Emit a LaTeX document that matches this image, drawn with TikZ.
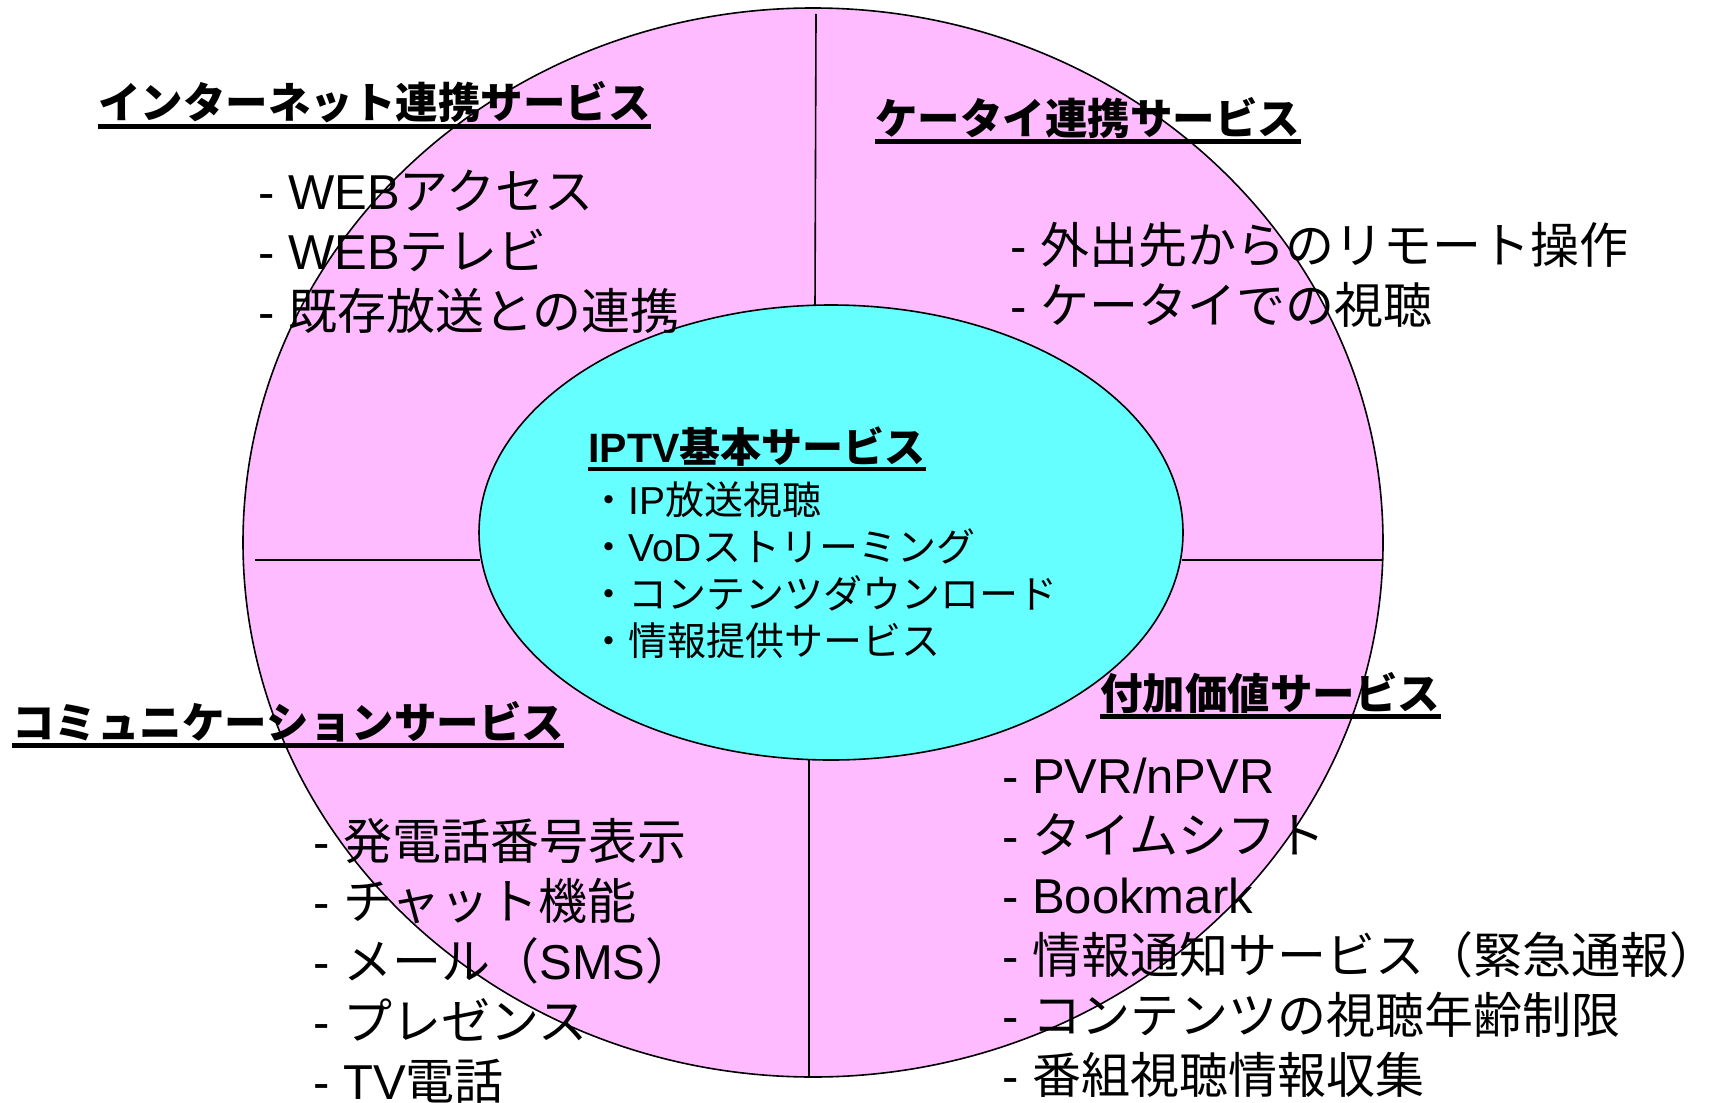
\documentclass[tikz,border=0pt]{standalone}
\usepackage{fontspec}
\setmainfont{Noto Sans CJK JP}
\newfontfamily\lat{Liberation Sans}
\usepackage{tikz}
\usetikzlibrary{shapes.geometric}
\definecolor{ringpink}{RGB}{255,187,255}
\definecolor{corecyan}{RGB}{102,255,255}
\newcommand{\idash}{{\lat -\ }}

\begin{document}
\begin{tikzpicture}[x=0.5pt, y=-0.5pt,
  title/.style={anchor=base west, inner sep=0pt, font=\bfseries\fontsize{21.25pt}{26pt}\selectfont},
  item/.style={anchor=base west, inner sep=0pt, font=\fontsize{24.5pt}{30pt}\selectfont},
  coreitem/.style={anchor=base west, inner sep=0pt, font=\fontsize{19.5pt}{23.5pt}\selectfont},
  uline/.style={line width=2.5pt},
  divider/.style={line width=0.8pt}]
\useasboundingbox (0,0) rectangle (1711,1102);

% Outer ring
\node[draw, ellipse, fill=ringpink, line width=0.8pt, minimum width=570pt, minimum height=534.5pt, inner sep=0pt] (ring) at (813,542.5) {};

% Quarter dividers
\draw[divider] (816,14) -- (815,306);
\draw[divider] (809,760) -- (809,1077);
\draw[divider] (255,560) -- (480,560);
\draw[divider] (1182,560) -- (1383,560);

% Core ellipse
\node[draw, ellipse, fill=corecyan, line width=0.8pt, minimum width=352pt, minimum height=227.5pt, inner sep=0pt] (core) at (831,532.5) {};

% Internet side
\node[title] (inet) at (98,119) {インターネット連携サービス};
\draw[uline] ([yshift=-3.5pt]inet.base west) -- ([yshift=-3.5pt]inet.base east);
\node[item] (inet1) at (258,209) {\idash{\lat WEB}アクセス};
\node[item] (inet2) at ([yshift=-30pt]inet1.base west) {\idash{\lat WEB}テレビ};
\node[item] (inet3) at ([yshift=-30pt]inet2.base west) {\idash 既存放送との連携};

% Mobile side
\node[title] (mobile) at (875,134) {ケータイ連携サービス};
\draw[uline] ([yshift=-3.5pt]mobile.base west) -- ([yshift=-3.5pt]mobile.base east);
\node[item] (mobile1) at (1010,263) {\idash 外出先からのリモート操作};
\node[item] (mobile2) at ([yshift=-30pt]mobile1.base west) {\idash ケータイでの視聴};

% Communication side
\node[title] (comm) at (12,738) {コミュニケーションサービス};
\draw[uline] ([yshift=-3.5pt]comm.base west) -- ([yshift=-3.5pt]comm.base east);
\node[item] (comm1) at (313,859) {\idash 発電話番号表示};
\node[item] (comm2) at ([yshift=-30pt]comm1.base west) {\idash チャット機能};
\node[item] (comm3) at ([yshift=-30pt]comm2.base west) {\idash メール（{\lat SMS}）};
\node[item] (comm4) at ([yshift=-30pt]comm3.base west) {\idash プレゼンス};
\node[item] (comm5) at ([yshift=-30pt]comm4.base west) {\idash{\lat TV}電話};

% Value-added side
\node[title] (value) at (1100,709) {付加価値サービス};
\draw[uline] ([yshift=-3.5pt]value.base west) -- ([yshift=-3.5pt]value.base east);
\node[item] (value1) at (1002,793) {\idash{\lat PVR/nPVR}};
\node[item] (value2) at ([yshift=-30pt]value1.base west) {\idash タイムシフト};
\node[item] (value3) at ([yshift=-30pt]value2.base west) {\idash{\lat Bookmark}};
\node[item] (value4) at ([yshift=-30pt]value3.base west) {\idash 情報通知サービス（緊急通報）};
\node[item] (value5) at ([yshift=-30pt]value4.base west) {\idash コンテンツの視聴年齢制限};
\node[item] (value6) at ([yshift=-30pt]value5.base west) {\idash 番組視聴情報収集};

% Basic IPTV services
\node[title, font=\bfseries\fontsize{20.5pt}{24pt}\selectfont] (basic) at (588,462) {{\lat\bfseries IPTV}基本サービス};
\draw[uline, line width=2pt] ([yshift=-3.5pt]basic.base west) -- ([yshift=-3.5pt]basic.base east);
\node[coreitem] (basic1) at (589,514) {・{\lat IP}放送視聴};
\node[coreitem] (basic2) at ([yshift=-23.5pt]basic1.base west) {・{\lat VoD}ストリーミング};
\node[coreitem] (basic3) at ([yshift=-23.5pt]basic2.base west) {・コンテンツダウンロード};
\node[coreitem] (basic4) at ([yshift=-23.5pt]basic3.base west) {・情報提供サービス};
\end{tikzpicture}
\end{document}
